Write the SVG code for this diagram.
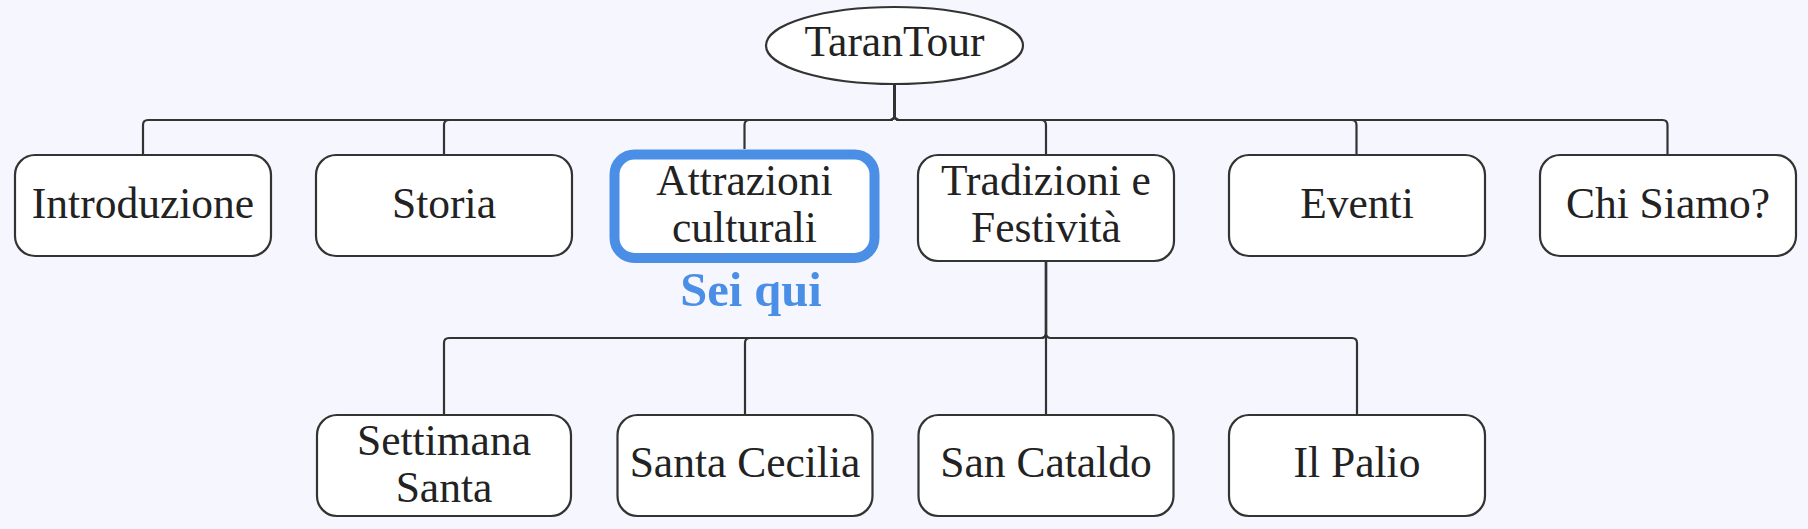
<svg xmlns="http://www.w3.org/2000/svg" width="1808" height="529" viewBox="0 0 1808 529">
<style>
.bg{fill:#F6F7FE}
.box{fill:#FFFFFF;stroke:#333333;stroke-width:2.2}
.hl{fill:#FFFFFF;stroke:#4A8FE5;stroke-width:10}
.t{font-family:"Liberation Serif","Times New Roman",serif;font-size:43.5px;fill:#222222;text-anchor:middle}
.here{font-family:"Liberation Serif","Times New Roman",serif;font-size:48.5px;font-weight:bold;fill:#4A8FE5;text-anchor:middle}
.c{fill:none;stroke:#333333;stroke-width:2.2}
</style>
<rect class="bg" x="0" y="0" width="1808" height="529"/>
<g id="connectors">
<path class="c" d="M894.5 84 V115 Q894.5 120 889.5 120 H148 Q143 120 143 125 V154"/>
<path class="c" d="M894.5 84 V115 Q894.5 120 889.5 120 H449 Q444 120 444 125 V155"/>
<path class="c" d="M894.5 84 V115 Q894.5 120 889.5 120 H749.5 Q744.5 120 744.5 125 V149"/>
<path class="c" d="M894.5 84 V115 Q894.5 120 899.5 120 H1041 Q1046 120 1046 125 V155"/>
<path class="c" d="M894.5 84 V115 Q894.5 120 899.5 120 H1351.5 Q1356.5 120 1356.5 125 V155"/>
<path class="c" d="M894.5 84 V115 Q894.5 120 899.5 120 H1662.5 Q1667.5 120 1667.5 125 V155"/>
<path class="c" d="M1046 261 V333 Q1046 338 1041 338 H449 Q444 338 444 343 V415"/>
<path class="c" d="M1046 261 V333 Q1046 338 1041 338 H750 Q745 338 745 343 V415"/>
<path class="c" d="M1046 261 V415"/>
<path class="c" d="M1046 261 V333 Q1046 338 1051 338 H1352 Q1357 338 1357 343 V415"/>
</g>
<g id="node-tarantour">
<ellipse class="box" cx="894.5" cy="45.5" rx="128.5" ry="38.5"/>
<text class="t" x="894.5" y="56">TaranTour</text>
</g>
<g id="node-introduzione">
<rect class="box" x="15" y="155" width="256" height="101" rx="20"/>
<text class="t" x="143" y="218">Introduzione</text>
</g>
<g id="node-storia">
<rect class="box" x="316" y="155" width="256" height="101" rx="20"/>
<text class="t" x="444" y="218">Storia</text>
</g>
<g id="node-attrazioni">
<rect class="hl" x="614.5" y="154.5" width="260" height="103.5" rx="20"/>
<text class="t" x="744.5" y="195">Attrazioni</text>
<text class="t" x="744.5" y="241.5">culturali</text>
<text class="here" x="751" y="306">Sei qui</text>
</g>
<g id="node-tradizioni">
<rect class="box" x="918" y="155" width="256" height="106" rx="20"/>
<text class="t" x="1046" y="195">Tradizioni e</text>
<text class="t" x="1046" y="241.5">Festività</text>
</g>
<g id="node-eventi">
<rect class="box" x="1229" y="155" width="256" height="101" rx="20"/>
<text class="t" x="1357" y="218">Eventi</text>
</g>
<g id="node-chisiamo">
<rect class="box" x="1540" y="155" width="256" height="101" rx="20"/>
<text class="t" x="1668" y="218">Chi Siamo?</text>
</g>
<g id="node-settimana">
<rect class="box" x="317" y="415" width="254" height="101" rx="20"/>
<text class="t" x="444" y="455">Settimana</text>
<text class="t" x="444" y="501.5">Santa</text>
</g>
<g id="node-cecilia">
<rect class="box" x="617.5" y="415" width="255" height="101" rx="20"/>
<text class="t" x="745" y="477">Santa Cecilia</text>
</g>
<g id="node-cataldo">
<rect class="box" x="918.5" y="415" width="255" height="101" rx="20"/>
<text class="t" x="1046" y="477">San Cataldo</text>
</g>
<g id="node-palio">
<rect class="box" x="1229" y="415" width="256" height="101" rx="20"/>
<text class="t" x="1357" y="477">Il Palio</text>
</g>
</svg>
